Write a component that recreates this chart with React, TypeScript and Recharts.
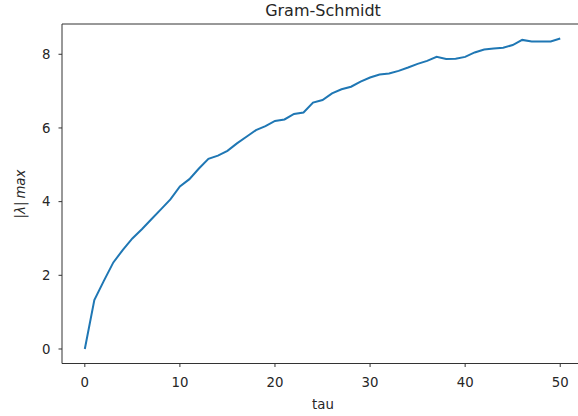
import { LineChart, Line, XAxis, YAxis, ReferenceLine } from "recharts";

// tau steps and the max |lambda|
const tau = [
  0, 1, 2, 3, 4, 5, 6, 7, 8, 9, 10, 11, 12, 13, 14, 15, 16, 17, 18, 19, 20, 21, 22, 23, 24, 25,
  26, 27, 28, 29, 30, 31, 32, 33, 34, 35, 36, 37, 38, 39, 40, 41, 42, 43, 44, 45, 46, 47, 48, 49, 50,
];
const lambdaMax = [
  0, 1.33, 1.85, 2.35, 2.69, 3.0, 3.25, 3.52, 3.79, 4.06, 4.41, 4.61, 4.9, 5.16, 5.25, 5.38, 5.58,
  5.76, 5.94, 6.05, 6.19, 6.23, 6.38, 6.42, 6.69, 6.76, 6.94, 7.05, 7.12, 7.26, 7.37, 7.45, 7.48,
  7.55, 7.64, 7.74, 7.82, 7.93, 7.87, 7.88, 7.93, 8.05, 8.13, 8.16, 8.18, 8.25, 8.39, 8.35, 8.35,
  8.35, 8.43,
];
const xTicks = [0, 10, 20, 30, 40, 50];
const yTicks = [0, 2, 4, 6, 8];

const data = tau.map((t, i) => ({ tau: t, value: lambdaMax[i] }));

const FONT = "DejaVu Sans, sans-serif";
const INK = "#262626";
const SPINE = "#333";
const Y_MIN = -0.394;
const Y_MAX = 8.822;

// |λ|max, rotated, matplotlib mathtext style (italic letters)
function YLabel() {
  return (
    <text
      x={20}
      y={194}
      transform="rotate(-90 20 194)"
      textAnchor="middle"
      dominantBaseline="central"
      fontFamily={FONT}
      fontSize={13.3}
      fill={INK}
    >
      <tspan>|</tspan>
      <tspan fontStyle="italic">λ</tspan>
      <tspan>|</tspan>
      <tspan fontStyle="italic" dx={3}>max</tspan>
    </text>
  );
}

export default function App() {
  return (
    <div
      style={{
        position: "absolute",
        left: 0,
        top: 0,
        width: 578,
        height: 416,
        overflow: "hidden",
        background: "#fff",
      }}
    >
      <div
        style={{
          position: "absolute",
          left: 0,
          width: 646,
          top: 1,
          textAlign: "center",
          fontFamily: FONT,
          fontSize: 16,
          color: INK,
          lineHeight: "19px",
        }}
      >
        Gram-Schmidt
      </div>
      <LineChart
        width={600}
        height={416}
        data={data}
        margin={{ top: 24, right: 16, bottom: 0, left: 0 }}
        style={{ position: "absolute", left: 0, top: 0 }}
      >
        <XAxis
          dataKey="tau"
          type="number"
          domain={[-2.4, 52.5]}
          ticks={xTicks}
          allowDataOverflow
          height={52.5}
          stroke={SPINE}
          tickSize={3.5}
          tickMargin={11}
          tick={{ fill: INK, fontSize: 13.3, fontFamily: FONT }}
          label={{
            value: "tau",
            position: "insideBottom",
            offset: 7,
            fill: INK,
            fontSize: 13.3,
            fontFamily: FONT,
          }}
        />
        <YAxis
          type="number"
          domain={[Y_MIN, Y_MAX]}
          ticks={yTicks}
          allowDataOverflow
          width={62}
          stroke={SPINE}
          tickSize={3.5}
          tickMargin={8}
          tick={{ fill: INK, fontSize: 13.3, fontFamily: FONT }}
          label={<YLabel />}
        />
        {/* top spine */}
        <ReferenceLine y={Y_MAX} stroke={SPINE} strokeWidth={1} />
        <Line
          type="linear"
          dataKey="value"
          stroke="#1f77b4"
          strokeWidth={2}
          dot={false}
          isAnimationActive={false}
        />
      </LineChart>
    </div>
  );
}
